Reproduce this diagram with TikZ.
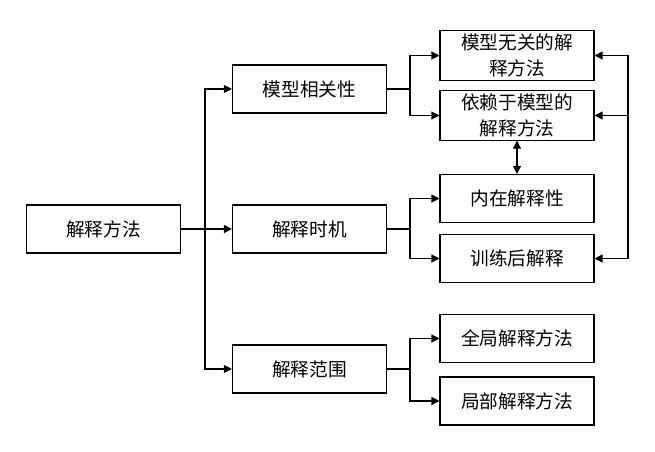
\documentclass[tikz,border=0pt]{standalone}
\usepackage{fontspec}
\newfontfamily\cjk{Noto Sans CJK SC}
\usetikzlibrary{arrows.meta}
\tikzset{box/.style={draw, thick, minimum width=115.5pt, minimum height=36pt, inner sep=0pt,
		align=center, font=\cjk\fontsize{14}{19}\selectfont},
	link/.style={thick, -{Triangle[length=6pt, width=6pt]}}}
\begin{document}
\begin{tikzpicture}[x=0.75pt, y=-0.75pt]
	\useasboundingbox (0, 0) rectangle (655, 451);
	\node[box] (root) at (103.5, 229) {解释方法};
	\node[box] (rel) at (309.5, 89) {模型相关性};
	\node[box] (time) at (309.5, 229) {解释时机};
	\node[box] (scope) at (309.5, 369) {解释范围};
	\node[box, minimum height=37pt] (agn) at (517, 55.5) {模型无关的解\\释方法};
	\node[box, minimum height=37pt] (dep) at (517, 115.5) {依赖于模型的\\解释方法};
	\node[box] (intr) at (517, 198.5) {内在解释性};
	\node[box] (post) at (517, 258.5) {训练后解释};
	\node[box] (glob) at (517, 338.5) {全局解释方法};
	\node[box] (loc) at (517, 401) {局部解释方法};

	\coordinate (j0) at (205, 229);
	\coordinate (j1) at (410, 89);
	\coordinate (j2) at (410, 229);
	\coordinate (j3) at (410, 369);
	\coordinate (jr) at (628, 89);

	\draw[thick] (root) -- (j0);
	\foreach \t in {rel, time, scope}
		\draw[link] (j0) |- (\t);
	\draw[thick] (rel) -- (j1);
	\foreach \t in {agn, dep}
		\draw[link] (j1) |- (\t);
	\draw[thick] (time) -- (j2);
	\foreach \t in {intr, post}
		\draw[link] (j2) |- (\t);
	\draw[thick] (scope) -- (j3);
	\foreach \t in {glob, loc}
		\draw[link] (j3) |- (\t);

	\foreach \t in {agn, dep, post}
		\draw[link] (jr) |- (\t);
	\draw[link, {Triangle[length=6pt, width=6pt]}-{Triangle[length=6pt, width=6pt]}] (dep) -- (intr);
\end{tikzpicture}
\end{document}
